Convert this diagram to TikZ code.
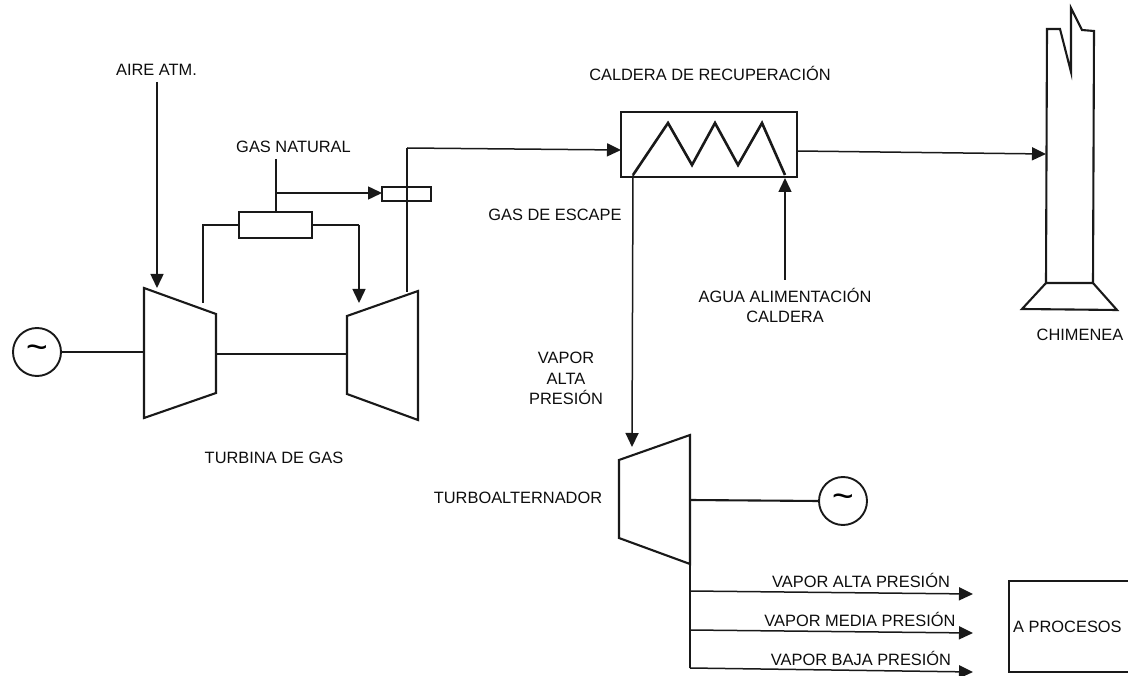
\documentclass[tikz,border=0pt]{standalone}
\usepackage{fontspec}
\setmainfont{Liberation Sans}
\usetikzlibrary{arrows.meta}
\tikzset{
  heavy/.style={draw=black!90,line width=2.1pt,line join=miter},
  medium/.style={draw=black!90,line width=1.5pt},
  flow/.style={medium,-{Triangle[length=14pt,width=13pt]}},
  lbl/.style={font=\fontsize{16.4}{18}\selectfont,inner sep=0pt,text=black!95,align=center},
  boxn/.style={draw=black!90,line width=2.1pt,inner sep=0pt,outer sep=0pt},
  gen/.style={draw=black!90,line width=1.9pt,circle,minimum size=48pt,inner sep=0pt,outer sep=0pt,font=\fontsize{37}{37}\selectfont},
}
\begin{document}
\begin{tikzpicture}[x=1pt,y=-1pt]
\useasboundingbox (0,0) rectangle (1128,676);
% Compressor
\coordinate (c1) at (144,288); \coordinate (c2) at (216,314);
\coordinate (c3) at (216,393); \coordinate (c4) at (144,418);
\draw[heavy] (c1) -- (c2) -- (c3) -- (c4) -- cycle;
% Gas turbine
\coordinate (t1) at (347,316); \coordinate (t2) at (418,291);
\coordinate (t3) at (418,420); \coordinate (t4) at (347,394);
\draw[heavy] (t1) -- (t2) -- (t3) -- (t4) -- cycle;
% Steam turbine
\coordinate (s1) at (619,460); \coordinate (s2) at (690,435);
\coordinate (s3) at (690,564); \coordinate (s4) at (619,538);
\draw[heavy] (s1) -- (s2) -- (s3) -- (s4) -- cycle;
% Generators
\node[gen] (g1) at (37,352) {\raisebox{-7pt}{\textasciitilde}};
\node[gen] (g2) at (843,501) {\raisebox{-7pt}{\textasciitilde}};
\coordinate (g1s) at (144,352);
\coordinate (cshaft) at (216,354); \coordinate (tshaft) at (347,354);
\coordinate (s2s) at (690,500);
\draw[heavy] (g1.east) -- (g1s);
\draw[heavy] (cshaft) -- (tshaft);
\draw[heavy] (s2s) -- (g2.west);
% Combustion boxes
\node[boxn,minimum width=73pt,minimum height=26pt] (comb) at (275.5,225) {};
\node[boxn,minimum width=49pt,minimum height=14pt] (post) at (406.5,194) {};
% Boiler
\node[boxn,minimum width=176pt,minimum height=65pt] (boiler) at (709,144.5) {};
\coordinate (z0) at (633,175); \coordinate (z6) at (785,175);
\draw[draw=black!90,line width=2.6pt,line join=miter] (z0) -- (668,123) -- (692,165) -- (715,123) -- (738,165) -- (762,123) -- (z6);
% Stack
\coordinate (k1) at (1046,283); \coordinate (k2) at (1093,283);
\coordinate (k3) at (1022,309); \coordinate (k4) at (1117,310);
\draw[heavy] (k1) -- (1047,29) -- (1060,29) -- (1071,72) -- (1071,8) -- (1082,30) -- (1094,31) -- (k2) -- cycle;
\draw[heavy] (k1) -- (k3) -- (k4) -- (k2);
% Process box
\node[boxn,minimum width=125pt,minimum height=91pt,anchor=north west] (proc) at (1009,581) {};
\node[lbl,anchor=west] (procl) at (1013,627) {A PROCESOS};
% Labels
\node[lbl] (aire) at (156.5,70) {AIRE ATM.};
\node[lbl] (gasn) at (293.5,147) {GAS NATURAL};
\node[lbl] (cald) at (710,73) {CALDERA DE RECUPERACIÓN};
\node[lbl] (esc) at (555,215) {GAS DE ESCAPE};
\node[lbl] (agua) at (785,305) {AGUA ALIMENTACIÓN\\[2pt]CALDERA};
\node[lbl] (chim) at (1080,335) {CHIMENEA};
\node[lbl] (vap) at (566,378.5) {VAPOR\\[2.5pt]ALTA\\[2.5pt]PRESIÓN};
\node[lbl] (tg) at (274,458) {TURBINA DE GAS};
\node[lbl] (ta) at (518,498) {TURBOALTERNADOR};
\node[lbl] (va) at (861,580) {VAPOR ALTA PRESIÓN};
\node[lbl] (vm) at (860,619) {VAPOR MEDIA PRESIÓN};
\node[lbl] (vb) at (861,658) {VAPOR BAJA PRESIÓN};
% Connectors
\coordinate (airTop) at (157,82);
\coordinate (airTip) at (157,288);
\draw[flow] (airTop) -- (airTip);
\coordinate (cOut) at (203,303); \coordinate (tIn) at (359,303);
\draw[heavy] (cOut) |- (comb.west);
\draw[heavy] (comb.east) -- (comb.east -| tIn);
\draw[flow] (comb.east -| tIn) -- (tIn);
\coordinate (gTop) at (276,159);
\draw[heavy] (gTop) -- (comb.north -| gTop);
\coordinate (gBr) at (276,193);
\draw[flow] (gBr) -- (post.west |- gBr);
\coordinate (tOut) at (407,292); \coordinate (tUp) at (407,148);
\draw[heavy] (tOut) -- (tUp);
\coordinate (bIn) at (621,150);
\draw[flow] (tUp) -- (bIn);
\coordinate (bOut) at (797,151); \coordinate (kIn) at (1046,154);
\draw[flow] (bOut) -- (kIn);
\coordinate (wBot) at (785,280); \coordinate (wTip) at (785,178);
\draw[flow] (wBot) -- (wTip);
\coordinate (vTip) at (632,447);
\draw[flow] (z0) -- (vTip);
\coordinate (sBot) at (690,668);
\draw[heavy] (s3) -- (sBot);
\coordinate (a1) at (690,591); \coordinate (a1t) at (973,594);
\coordinate (a2) at (690,630); \coordinate (a2t) at (973,633);
\coordinate (a3t) at (973,672);
\draw[flow] (a1) -- (a1t);
\draw[flow] (a2) -- (a2t);
\draw[flow] (sBot) -- (a3t);
\end{tikzpicture}
\end{document}
